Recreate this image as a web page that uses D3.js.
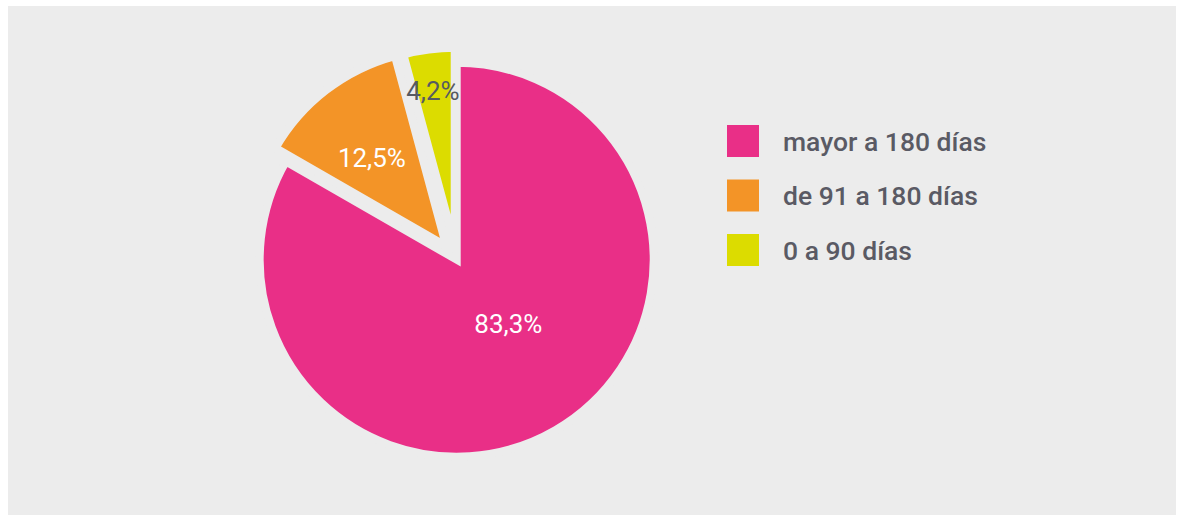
<!DOCTYPE html>
<html>
<head>
<meta charset="utf-8">
<script src="https://cdn.jsdelivr.net/npm/d3@7"></script>
<style>
  html, body { margin: 0; padding: 0; background: #fff; }
  svg text { font-family: Roboto, "Open Sans", sans-serif; }
</style>
</head>
<body>
<div id="chart"></div>
<script>
// data
var categories = ["mayor a 180 días", "de 91 a 180 días", "0 a 90 días"];
var values = [83.3, 12.5, 4.2];
var labels = ["83,3%", "12,5%", "4,2%"];
var colors = ["#e92f87", "#f39427", "#dcdc00"];
var labelColors = ["#ffffff", "#ffffff", "#565a62"];

var width = 1179, height = 515;
var bg = "#ececec";

var svg = d3.select("#chart").append("svg")
    .attr("width", width)
    .attr("height", height);

svg.append("rect")
    .attr("x", 8).attr("y", 6)
    .attr("width", 1168).attr("height", 520)
    .attr("fill", bg);

var cx = 456.7, cy = 259.7, R = 197;
// how far each slice is pulled out, and where its label sits
var explode = [0, 17, 15];
var labelPlace = [{r: 82, da: -9}, {r: 116, da: -2.3}, {r: 156, da: -0.5}];

var data = values.map(function(v, i) {
    return {name: categories[i], value: v, i: i};
});

var pie = d3.pie().sort(null).value(d => d.value);
var arc = d3.arc().innerRadius(0).outerRadius(R);

var g = svg.append("g").attr("transform", "translate(" + cx + "," + cy + ")");

var slices = g.selectAll("g.slice")
    .data(pie(data))
    .enter().append("g")
    .attr("class", "slice")
    .attr("transform", function(d) {
        var mid = (d.startAngle + d.endAngle) / 2;
        var p = d3.pointRadial(mid, explode[d.index]);
        return "translate(" + p[0] + "," + p[1] + ")";
    });

slices.append("path")
    .attr("d", arc)
    .attr("fill", d => colors[d.index])
    .attr("stroke", bg)
    .attr("stroke-width", 8)
    .attr("stroke-linejoin", "miter");

slices.append("text")
    .attr("transform", function(d) {
        var mid = (d.startAngle + d.endAngle) / 2 + labelPlace[d.index].da * Math.PI / 180;
        var p = d3.pointRadial(mid, labelPlace[d.index].r);
        return "translate(" + p[0] + "," + p[1] + ")";
    })
    .attr("text-anchor", "middle")
    .attr("dy", "0.36em")
    .attr("font-size", 26)
    .attr("fill", d => labelColors[d.index])
    .text(d => labels[d.index]);

// legend
var legend = svg.append("g").attr("transform", "translate(727,125)");

var rows = legend.selectAll("g")
    .data(categories)
    .enter().append("g")
    .attr("transform", (d, i) => "translate(0," + (i * 54.5) + ")");

rows.append("rect")
    .attr("width", 32).attr("height", 32)
    .attr("fill", (d, i) => colors[i]);

rows.append("text")
    .attr("x", 56)
    .attr("y", 16)
    .attr("dy", "0.36em")
    .attr("font-size", 26.5)
    .attr("font-weight", 500)
    .attr("fill", "#5a5a64")
    .text(d => d);
</script>
</body>
</html>
